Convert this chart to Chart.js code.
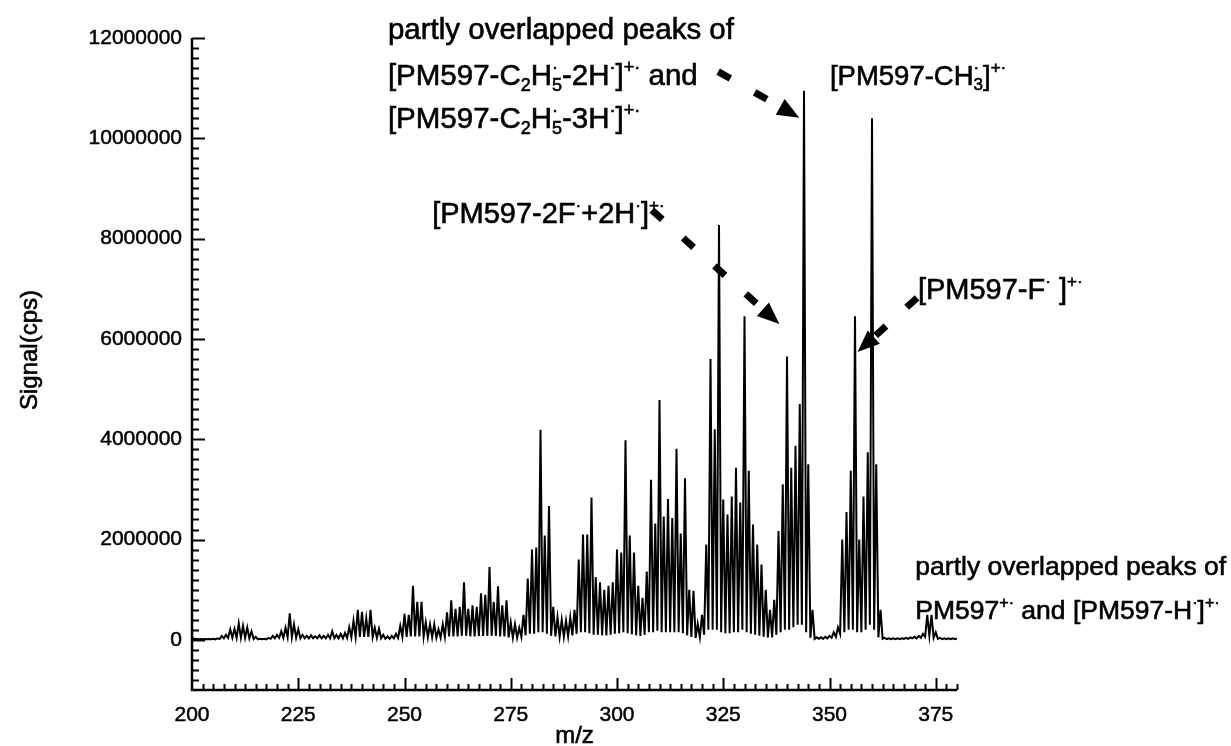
<!DOCTYPE html>
<html>
<head>
<meta charset="utf-8">
<script src="https://cdn.jsdelivr.net/npm/chart.js@4.4.1/dist/chart.umd.min.js"></script>
<style>
    html, body { margin: 0; padding: 0; background: #fff; }
    canvas { display: block; }
</style>
</head>
<body>
<canvas id="spectrum" width="1231" height="746" style="width:1231px;height:746px"></canvas>
<script>
// mass spectrum of PM597

// nominal m/z of each peak = firstMz + index
const firstMz = 200;

// signal (cps) at each integer m/z, 200 .. 380
const peakSignal = [
    50000, 20000, 15000, 15000, 15000, 20000, 30000, 80000, 100000, 210000,          // 200
    220000, 330000, 280000, 250000, 170000, 60000, 20000, 20000, 40000, 80000,       // 210
    100000, 170000, 240000, 530000, 310000, 210000, 100000, 80000, 90000, 70000,     // 220
    90000, 80000, 100000, 170000, 100000, 120000, 140000, 250000, 380000, 600000,    // 230
    560000, 430000, 600000, 240000, 220000, 100000, 70000, 80000, 120000, 280000,    // 240
    520000, 500000, 1080000, 760000, 760000, 350000, 310000, 310000, 210000, 310000, // 250
    550000, 790000, 620000, 660000, 1150000, 620000, 690000, 660000, 930000, 900000, // 260
    1450000, 760000, 1070000, 690000, 790000, 350000, 310000, 240000, 500000, 1220000, // 270
    1800000, 1840000, 4190000, 2080000, 2670000, 660000, 450000, 400000, 380000, 450000, // 280
    600000, 1600000, 2100000, 2100000, 2840000, 1250000, 1150000, 1000000, 1080000, 1150000, // 290
    1800000, 1740000, 3980000, 2080000, 1740000, 1080000, 840000, 1360000, 3190000, 2320000, // 300
    4780000, 2460000, 2810000, 2430000, 3810000, 2120000, 3220000, 1000000, 980000, 320000,  // 310
    500000, 1900000, 5600000, 4200000, 8270000, 2800000, 2500000, 2860000, 3430000, 2740000, // 320
    6450000, 3370000, 2300000, 1900000, 1500000, 1000000, 600000, 800000, 2170000, 3100000,  // 330
    5650000, 3430000, 3870000, 4700000, 10950000, 3500000, 600000, 50000, 50000, 60000,     // 340
    80000, 150000, 250000, 2000000, 2550000, 3370000, 6450000, 2000000, 2860000, 3740000,   // 350
    10400000, 3500000, 600000, 40000, 30000, 30000, 30000, 30000, 40000, 50000,             // 360
    60000, 80000, 120000, 500000, 500000, 150000, 40000, 30000, 30000, 30000,               // 370
    30000                                                                                   // 380
];

// signal (cps) in the gap between two peaks, 200.5 .. 379.5
const valleySignal = [
    10000, 10000, 10000, 10000, 10000, 10000, 15000, 30000, 40000, 40000,            // 200.5
    40000, 40000, 40000, 30000, 15000, 10000, 10000, 10000, 20000, 30000,            // 210.5
    40000, 40000, 50000, 50000, 40000, 30000, 30000, 30000, 30000, 30000,            // 220.5
    30000, 30000, 30000, 30000, 30000, 30000, 40000, 50000, 60000, 60000,            // 230.5
    60000, 60000, 50000, 40000, 30000, 20000, 20000, 30000, 40000, 60000,            // 240.5
    60000, 70000, 70000, 70000, 60000, 50000, 50000, 40000, 40000, 60000,            // 250.5
    70000, 70000, 70000, 80000, 80000, 70000, 70000, 80000, 80000, 80000,            // 260.5
    80000, 80000, 70000, 70000, 50000, 40000, 40000, 60000, 90000, 120000,           // 270.5
    120000, 150000, 150000, 120000, 80000, 70000, 60000, 60000, 70000, 90000,        // 280.5
    120000, 150000, 150000, 130000, 100000, 100000, 90000, 90000, 100000, 120000,    // 290.5
    130000, 150000, 130000, 110000, 90000, 80000, 100000, 150000, 150000, 180000,    // 300.5
    150000, 150000, 150000, 150000, 150000, 130000, 90000, 60000, 40000, 50000,      // 310.5
    100000, 200000, 200000, 200000, 150000, 130000, 130000, 150000, 150000, 200000,  // 320.5
    150000, 120000, 100000, 80000, 60000, 50000, 50000, 100000, 150000, 200000,      // 330.5
    200000, 250000, 300000, 300000, 150000, 40000, 20000, 20000, 20000, 30000,       // 340.5
    40000, 60000, 120000, 150000, 200000, 200000, 150000, 150000, 200000, 300000,    // 350.5
    200000, 50000, 20000, 15000, 15000, 15000, 15000, 20000, 20000, 30000,           // 360.5
    30000, 40000, 60000, 80000, 40000, 20000, 15000, 15000, 15000, 15000             // 370.5
];

const mzTicks = [200, 225, 250, 275, 300, 325, 350, 375];
const signalTicks = [0, 2000000, 4000000, 6000000, 8000000, 10000000, 12000000];

// --- annotations (left edge at m/z, vertical middle at signal) ---
const fontFamily = '"Liberation Sans", Arial, Helvetica, sans-serif';

const notes = [
    { mz: 246.1, signal: 12200000, size: 29.5, parts: ['partly overlapped peaks of'] },
    { mz: 246.1, signal: 11270000, size: 29.5, parts: ['[PM597-C', { sub: '2' }, 'H', { sup: '·', sub: '5' }, '-2H', { sup: '·' }, ']', { sup: '+·' }, ' and'] },
    { mz: 246.1, signal: 10410000, size: 29.5, parts: ['[PM597-C', { sub: '2' }, 'H', { sup: '·', sub: '5' }, '-3H', { sup: '·' }, ']', { sup: '+·' }] },
    { mz: 350.1, signal: 11270000, size: 27.5, parts: ['[PM597-CH', { sup: '·', sub: '3' }, ']', { sup: '+·' }] },
    { mz: 256.5, signal: 8510000, size: 29, parts: ['[PM597-2F', { sup: '·' }, '+2H', { sup: '·' }, ']', { sup: '+·' }] },
    { mz: 370.8, signal: 7000000, size: 29, parts: ['[PM597-F', { sup: '·' }, ' ]', { sup: '+·' }] },
    { mz: 370.2, signal: 1480000, size: 26.5, parts: ['partly overlapped peaks of'] },
    { mz: 370.2, signal: 600000, size: 26.5, parts: ['PM597', { sup: '+·' }, ' and [PM597-H', { sup: '·' }, ']', { sup: '+·' }] },
];

const arrows = [
    { from: [323.8, 11330000], to: [342.9, 10410000] },
    { from: [308.2, 8570000], to: [338.2, 6300000] },
    { from: [370.6, 6820000], to: [356.6, 5740000] },
];

// --- trace: peak, valley, peak, valley ... ---
const points = [];
peakSignal.forEach((s, i) => {
    points.push({ x: firstMz + i, y: s });
    if (i < valleySignal.length) {
        points.push({ x: firstMz + i + 0.5, y: valleySignal[i] });
    }
});

// text with sub/superscripts; a light stroke thickens it like the scanned print
function drawRich(ctx, parts, x, y, size) {
    const small = Math.round(size * 0.6);
    let cx = x;
    ctx.textAlign = 'left';
    ctx.textBaseline = 'alphabetic';
    ctx.lineWidth = 0.6;
    const put = (t, px, py) => { ctx.fillText(t, px, py); ctx.strokeText(t, px, py); };
    parts.forEach((p) => {
        if (typeof p === 'string') {
            ctx.font = `${size}px ${fontFamily}`;
            put(p, cx, y);
            cx += ctx.measureText(p).width;
            return;
        }
        ctx.font = `${small}px ${fontFamily}`;
        let w = 0;
        if (p.sup) {
            put(p.sup, cx, y - size * 0.42);
            w = Math.max(w, ctx.measureText(p.sup).width);
        }
        if (p.sub) {
            put(p.sub, cx, y + size * 0.2);
            w = Math.max(w, ctx.measureText(p.sub).width);
        }
        cx += w;
    });
}

function drawArrow(ctx, x0, y0, x1, y1) {
    const ang = Math.atan2(y1 - y0, x1 - x0);
    const headLen = 22, headW = 9;
    const bx = x1 - headLen * Math.cos(ang);
    const by = y1 - headLen * Math.sin(ang);
    ctx.lineWidth = 7;
    ctx.setLineDash([14, 28]);
    ctx.beginPath();
    ctx.moveTo(x0, y0);
    ctx.lineTo(bx, by);
    ctx.stroke();
    ctx.setLineDash([]);
    ctx.beginPath();
    ctx.moveTo(x1, y1);
    ctx.lineTo(bx + headW * Math.sin(ang), by - headW * Math.cos(ang));
    ctx.lineTo(bx - headW * Math.sin(ang), by + headW * Math.cos(ang));
    ctx.closePath();
    ctx.fill();
}

// axis lines + inward ticks, like the original plot
const axesPlugin = {
    id: 'axesPlugin',
    afterDraw(chart) {
        const { ctx, chartArea: a } = chart;
        const xs = chart.scales.x, ys = chart.scales.y;
        ctx.save();
        ctx.strokeStyle = '#000';
        ctx.lineWidth = 2.5;
        ctx.beginPath();
        ctx.moveTo(a.left, a.top);
        ctx.lineTo(a.left, a.bottom);
        ctx.lineTo(a.right, a.bottom);
        ctx.stroke();

        ctx.lineWidth = 2;
        ctx.beginPath();
        // y: minor every 200000, major every 2000000
        for (let k = -4; k <= 60; k++) {
            const py = Math.round(ys.getPixelForValue(k * 200000)) + 0.5;
            const len = (k >= 0 && k % 10 === 0) ? 13 : 7;
            ctx.moveTo(a.left, py);
            ctx.lineTo(a.left + len, py);
        }
        // x: minor every 2.5, major every 25
        for (let k = 1; k <= 72; k++) {
            const px = Math.round(xs.getPixelForValue(firstMz + k * 2.5)) + 0.5;
            const len = (k % 10 === 0) ? 12 : 6;
            ctx.moveTo(px, a.bottom);
            ctx.lineTo(px, a.bottom - len);
        }
        ctx.stroke();

        // axis titles
        ctx.fillStyle = '#000';
        ctx.lineWidth = 0.6;
        ctx.font = `24px ${fontFamily}`;
        ctx.textAlign = 'center';
        ctx.textBaseline = 'middle';
        ctx.fillText('m/z', (a.left + a.right) / 2, 736);
        ctx.strokeText('m/z', (a.left + a.right) / 2, 736);
        ctx.save();
        ctx.translate(30, 350);
        ctx.rotate(-Math.PI / 2);
        ctx.fillText('Signal(cps)', 0, 0);
        ctx.strokeText('Signal(cps)', 0, 0);
        ctx.restore();
        ctx.restore();
    }
};

const notesPlugin = {
    id: 'notesPlugin',
    afterDraw(chart) {
        const { ctx } = chart;
        const xs = chart.scales.x, ys = chart.scales.y;
        ctx.save();
        ctx.fillStyle = '#000';
        ctx.strokeStyle = '#000';
        notes.forEach((n) => {
            const px = xs.getPixelForValue(n.mz);
            const py = ys.getPixelForValue(n.signal) + n.size * 0.36;
            drawRich(ctx, n.parts, px, py, n.size);
        });
        arrows.forEach((ar) => {
            drawArrow(ctx,
                xs.getPixelForValue(ar.from[0]), ys.getPixelForValue(ar.from[1]),
                xs.getPixelForValue(ar.to[0]), ys.getPixelForValue(ar.to[1]));
        });
        ctx.restore();
    }
};

const tickFont = { family: fontFamily, size: 21 };

new Chart(document.getElementById('spectrum').getContext('2d'), {
    type: 'line',
    data: {
        datasets: [{
            data: points,
            borderColor: '#000',
            borderWidth: 2,
            pointRadius: 0,
            tension: 0,
            fill: false,
        }],
    },
    options: {
        responsive: false,
        animation: false,
        events: [],
        layout: { padding: { top: 38, right: 274, left: 0, bottom: 0 } },
        plugins: {
            legend: { display: false },
            tooltip: { enabled: false },
        },
        scales: {
            x: {
                type: 'linear',
                min: 200,
                max: 380,
                afterBuildTicks: (s) => { s.ticks = mzTicks.map((v) => ({ value: v })); },
                afterFit: (s) => { s.height = 56; },
                grid: { display: false, drawTicks: false },
                border: { display: false },
                ticks: {
                    color: '#000', font: tickFont, padding: 13, maxRotation: 0, autoSkip: false,
                    textStrokeColor: '#000', textStrokeWidth: 0.5,
                },
            },
            y: {
                type: 'linear',
                min: -1000000,
                max: 12000000,
                afterBuildTicks: (s) => { s.ticks = signalTicks.map((v) => ({ value: v })); },
                afterFit: (s) => { s.width = 192; },
                grid: { display: false, drawTicks: false },
                border: { display: false },
                ticks: {
                    color: '#000', font: tickFont, padding: 10, callback: (v) => String(v),
                    textStrokeColor: '#000', textStrokeWidth: 0.5,
                },
            },
        },
    },
    plugins: [axesPlugin, notesPlugin],
});
</script>
</body>
</html>
